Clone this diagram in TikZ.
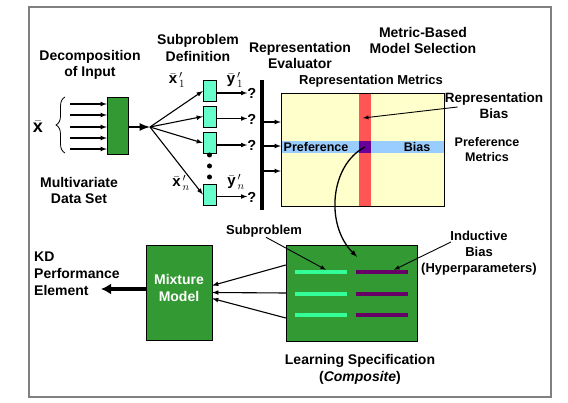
\documentclass[tikz,border=0pt]{standalone}
\usepackage{fontspec}
\setmainfont{Liberation Sans}
\usetikzlibrary{arrows.meta,decorations.pathreplacing}

\definecolor{boxgreen}{HTML}{339933}
\definecolor{subcyan}{HTML}{66FFCC}
\definecolor{linecyan}{HTML}{33FF99}
\definecolor{linepurple}{HTML}{660066}
\definecolor{paleyellow}{HTML}{FFFFCC}
\definecolor{stripered}{HTML}{FF5555}
\definecolor{stripeblue}{HTML}{99CCFF}
\definecolor{crosspurple}{HTML}{660099}

\tikzstyle{hdr}=[font=\fontsize{14}{16.5}\selectfont\bfseries, align=center, inner sep=0pt]
\tikzstyle{lbl}=[font=\fontsize{13}{16}\selectfont\bfseries, align=center, inner sep=0pt]
\tikzstyle{gbox}=[draw, thin, fill=boxgreen, inner sep=0pt]
\tikzstyle{subbox}=[draw, thin, fill=subcyan, minimum width=13pt, minimum height=21pt, inner sep=0pt]
\tikzstyle{msg}=[-latex, line width=1.1pt]
\tikzstyle{fat}=[-{Latex[length=10pt,width=11pt]}, line width=3.5pt]
\tikzstyle{vlabel}=[font=\fontsize{15}{17}\selectfont, inner sep=0pt]
\tikzstyle{qmark}=[font=\fontsize{14.5}{16}\selectfont\bfseries, inner sep=0pt]
\tikzstyle{stripe}=[inner sep=0pt, outer sep=0pt]
\tikzstyle{specline}=[minimum width=52pt, minimum height=4pt, inner sep=0pt]

\begin{document}
\begin{tikzpicture}[x=1pt, y=-1pt]
    \useasboundingbox (0,0) rectangle (568,403);
    \draw[gray, line width=1.5pt] (29,7) rectangle (551,397);

    \node[hdr] (decomp) at (90,65) {Decomposition\\of Input};
    \node[hdr] (subdef) at (198,48) {Subproblem\\Definition};
    \node[hdr] (repeval) at (300,55.5) {Representation\\Evaluator};
    \node[hdr] (select) at (423,40.5) {Metric-Based\\Model Selection};
    \node[hdr] (multi) at (79,190.5) {Multivariate\\Data Set};

    \node[font=\fontsize{18}{20}\selectfont, inner sep=0pt] (xin) at (38,127) {$\bar{\mathbf{x}}$};
    \coordinate (bracebot) at (65,153);
    \coordinate (bracetop) at (65,97);
    \draw[decorate, decoration={brace, amplitude=9pt}, line width=0.8pt] (bracebot) -- (bracetop);
    \node[gbox, minimum width=21pt, minimum height=57pt] (dec) at (117.5,125.5) {};
    \foreach \i/\yy in {1/104,2/115,3/127,4/138,5/149}{
      \coordinate (in\i) at (70,\yy);
      \draw[msg] (in\i) -- (in\i -| dec.west);
    }
    \coordinate (fan) at (150,127);
    \draw[-latex, line width=2.5pt] (dec.east |- fan) -- (fan);

    \node[subbox] (sub1) at (209.5,91) {};
    \node[subbox] (sub2) at (209.5,116.5) {};
    \node[subbox] (sub3) at (209.5,143) {};
    \node[subbox] (subn) at (209.5,194.5) {};
    \foreach \s in {sub1,sub2,sub3,subn}{
      \draw[msg] (fan) -- (\s.west);
      \node[qmark, anchor=west] (q\s) at ([xshift=31pt,yshift=-2.5pt]\s.east) {?};
      \draw[msg] ([yshift=-2pt]\s.east) -- ([yshift=-2pt]\s.east -| q\s.west);
    }
    \foreach \i/\yy in {1/155,2/166,3/177}
      \node[circle, fill, inner sep=0pt, minimum size=5pt] (dot\i) at (209.5,\yy) {};
    \node[vlabel] (xone) at (177,80) {$\bar{\mathbf{x}}^{\,\prime}_{\,1}$};
    \node[vlabel] (yone) at (235,80) {$\bar{\mathbf{y}}^{\,\prime}_{\,1}$};
    \node[vlabel] (xlast) at (181,183) {$\bar{\mathbf{x}}^{\,\prime}_{\,n}$};
    \node[vlabel] (ylast) at (236,182) {$\bar{\mathbf{y}}^{\,\prime}_{\,n}$};

    \coordinate (bartop) at (262,80);
    \coordinate (barbot) at (262,210);
    \draw[line width=4.5pt] (bartop) -- (barbot);
    \node[fill=paleyellow, minimum width=163pt, minimum height=113pt, inner sep=0pt] (metrics) at (362.5,149.5) {};
    \foreach \i/\yy in {1/122,2/146,3/171}{
      \coordinate (ev\i) at (264,\yy);
      \draw[msg] (ev\i) -- (ev\i -| metrics.west);
    }
    \node[stripe, fill=stripered, minimum width=12pt, minimum height=113pt] (repstripe) at (365,149.5) {};
    \node[stripe, fill=stripeblue, minimum width=164pt, minimum height=12pt] (prefstripe) at (363,147) {};
    \node[stripe, fill=crosspurple, minimum width=12pt, minimum height=12pt] (cross) at (365,147) {};
    \draw[thin] (metrics.north west) rectangle (metrics.south east);
    \node[font=\fontsize{12.5}{14}\selectfont\bfseries, inner sep=0pt] (preftxt) at (316,147) {Preference};
    \node[font=\fontsize{12.5}{14}\selectfont\bfseries, inner sep=0pt] (biastxt) at (417,147) {Bias};
    \node[lbl] (repmet) at (371,81) {Representation Metrics};
    \node[lbl, font=\fontsize{13.5}{16}\selectfont\bfseries] (repbias) at (494,106) {Representation\\Bias};
    \node[lbl, font=\fontsize{12.5}{15}\selectfont\bfseries] (prefmet) at (487,149.5) {Preference\\Metrics};
    \draw[msg, line width=0.9pt] ([xshift=13pt,yshift=-1pt]repbias.west) -- ([xshift=-2pt,yshift=31.5pt]repstripe.center);

    \node[gbox, minimum width=66pt, minimum height=95pt] (mix) at (179,292.5) {};
    \node[text=white, font=\fontsize{14}{17}\selectfont\bfseries, align=center, inner sep=0pt] (mixtxt) at (179,288) {Mixture\\Model};
    \node[gbox, minimum width=131pt, minimum height=96pt] (spec) at (351.5,293) {};
    \foreach \i/\yy in {1/272,2/294,3/315}{
      \node[specline, fill=linecyan] (part\i) at (321,\yy) {};
      \node[specline, fill=linepurple] (bias\i) at (382,\yy) {};
    }
    \draw[msg] ([yshift=28pt]spec.west) -- ([yshift=7pt]mix.east);
    \draw[msg] (spec.west) -- (mix.east);
    \draw[msg] ([yshift=-25pt]spec.west) -- ([yshift=-6pt]mix.east);
    \coordinate (kdend) at (101,289);
    \draw[fat] ([yshift=3.5pt]mix.west) -- (kdend);
    \node[hdr, align=left, anchor=west, font=\fontsize{14}{17}\selectfont\bfseries] (kd) at (34,274) {KD\\Performance\\Element};
    \draw[msg, line width=1.3pt] (cross.center) .. controls (330,165) and (325,225) .. ([xshift=5.5pt,yshift=-12pt]spec.north);

    \node[lbl] (sublbl) at (264,231) {Subproblem};
    \draw[-latex, line width=0.9pt] ([xshift=2pt]sublbl.south) -- ([xshift=5pt]part1.north);
    \node[lbl] (indlbl) at (479,253) {Inductive\\Bias\\(Hyperparameters)};
    \coordinate (indfoot) at (451,242);
    \draw[-latex, line width=0.9pt] (indfoot) -- ([xshift=12pt]bias1.north);
    \node[hdr, font=\fontsize{14}{17}\selectfont\bfseries] (learn) at (360,369.5) {Learning Specification\\(\textit{Composite})};
  \end{tikzpicture}
\end{document}
